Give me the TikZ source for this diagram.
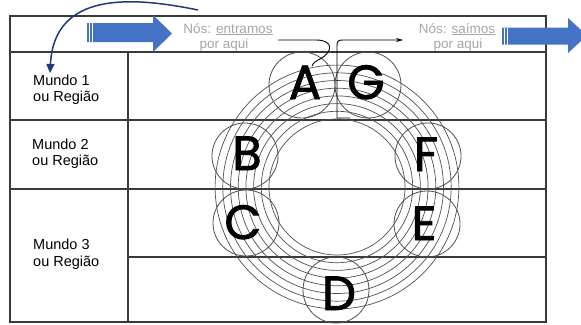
\documentclass[tikz,border=0pt]{standalone}
\usepackage{fontspec}
\setmainfont{Liberation Sans}
\newfontfamily\letterfont{Poppins}[FakeBold=1.8]
\usetikzlibrary{arrows.meta}
\definecolor{tbl}{HTML}{3A3A3A}
\definecolor{ringc}{HTML}{505050}
\definecolor{graytxt}{HTML}{A6A6A6}
\definecolor{bluearr}{HTML}{4472C4}
\definecolor{navy}{HTML}{1F3A7A}
\tikzset{
  tblline/.style={draw=tbl, line width=1.1pt},
  ring/.style={draw=ringc, line width=0.7pt},
  lcircle/.style={circle, draw=ringc, line width=0.8pt, minimum size=66pt, inner sep=0pt},
  letter/.style={font=\letterfont\fontsize{48}{48}\selectfont, inner sep=0pt, anchor=base, text depth=0pt, text height=34pt},
  mundo/.style={font=\fontsize{14.5}{16}\selectfont, inner sep=0pt, anchor=base west, text=black},
  graylbl/.style={font=\fontsize{13.5}{15}\selectfont, inner sep=0pt, anchor=base, text=graytxt},
  pathline/.style={draw=black, line width=0.9pt},
  blockarrow/.style={fill=bluearr},
}
\begin{document}
\begin{tikzpicture}[x=1pt,y=-1pt]
\useasboundingbox (0,0) rectangle (581,324);
\fill[white] (0,0) rectangle (581,324);

% table
\draw[tblline] (10,16) rectangle (546,322);
\draw[tblline] (10,52) -- (546,52);
\draw[tblline] (10,120) -- (546,120);
\draw[tblline] (10,189) -- (546,189);
\draw[tblline] (128,257) -- (546,257);
\draw[tblline] (128,52) -- (128,322);

% row labels
\node[mundo] (m1a) at (33,85) {Mundo 1};
\node[mundo] (m1b) at (33,101) {ou Região};
\node[mundo] (m2a) at (32,149) {Mundo 2};
\node[mundo] (m2b) at (32,165) {ou Região};
\node[mundo] (m3a) at (33,249) {Mundo 3};
\node[mundo] (m3b) at (33,266) {ou Região};

% header texts
\node[graylbl] (in1) at (228,33) {Nós: \underline{entramos}};
\node[graylbl] (in2) at (224,48) {por aqui};
\node[graylbl] (out1) at (457,33) {Nós: \underline{saímos}};
\node[graylbl] (out2) at (458,48) {por aqui};

% blue block arrows
\fill[blockarrow] (87,23) -- (153,23) -- (153,15) -- (172,33.5) -- (153,52) -- (153,42) -- (87,42) -- cycle;
\draw[white, line width=0.8pt] (89.5,23) -- (89.5,42) (92.5,23) -- (92.5,42);
\fill[blockarrow] (502,27.5) -- (568,27.5) -- (568,18) -- (587,35.5) -- (568,53) -- (568,44.5) -- (502,44.5) -- cycle;
\draw[white, line width=0.8pt] (504.5,27.5) -- (504.5,44.5) (507.5,27.5) -- (507.5,44.5);

% navy curved arrow
\coordinate (navyStart) at (198,10);
\coordinate (navyEnd) at (50,73);
\draw[navy, line width=1.5pt, -{Triangle[length=9pt,width=8pt]}] (navyStart) .. controls (130,-4) and (54,-8) .. (navyEnd);

% concentric rings
\coordinate (ctr) at (337,187);
\foreach \k in {0,...,7}{
  \draw[ring] (ctr) circle[radius={68+7.7*\k}];
}

% letter circles
\node[lcircle] (cA) at (302,85) {};
\node[lcircle] (cG) at (368,85) {};
\node[lcircle] (cB) at (245,156) {};
\node[lcircle] (cC) at (246,223) {};
\node[lcircle] (cD) at (336,290) {};
\node[lcircle] (cE) at (427,224) {};
\node[lcircle] (cF) at (428,156) {};

% letters
\node[letter] (lA) at (305,99) {A};
\node[letter] (lG) at (366,99) {G};
\node[letter] (lB) at (247,170) {B};
\node[letter] (lC) at (243,239) {C};
\node[letter] (lD) at (339,310) {D};
\node[letter] (lE) at (424,240) {E};
\node[letter] (lF) at (426,171) {F};

% entry and exit path lines
\coordinate (entryStart) at (278,40);
\coordinate (entryEnd) at (312,66);
\draw[pathline] (entryStart) -- (316,40) .. controls (334,40) and (333,52) .. (320,59) .. controls (316,61) and (313,63) .. (entryEnd);
\coordinate (exitFoot) at (350,118);
\coordinate (exitEnd) at (403,40);
\draw[pathline, -{Stealth[length=7pt,width=4pt]}] (exitFoot) -- (337,118) -- (337,46) .. controls (337,41) and (338,40) .. (343,40) -- (exitEnd);
\end{tikzpicture}
\end{document}
